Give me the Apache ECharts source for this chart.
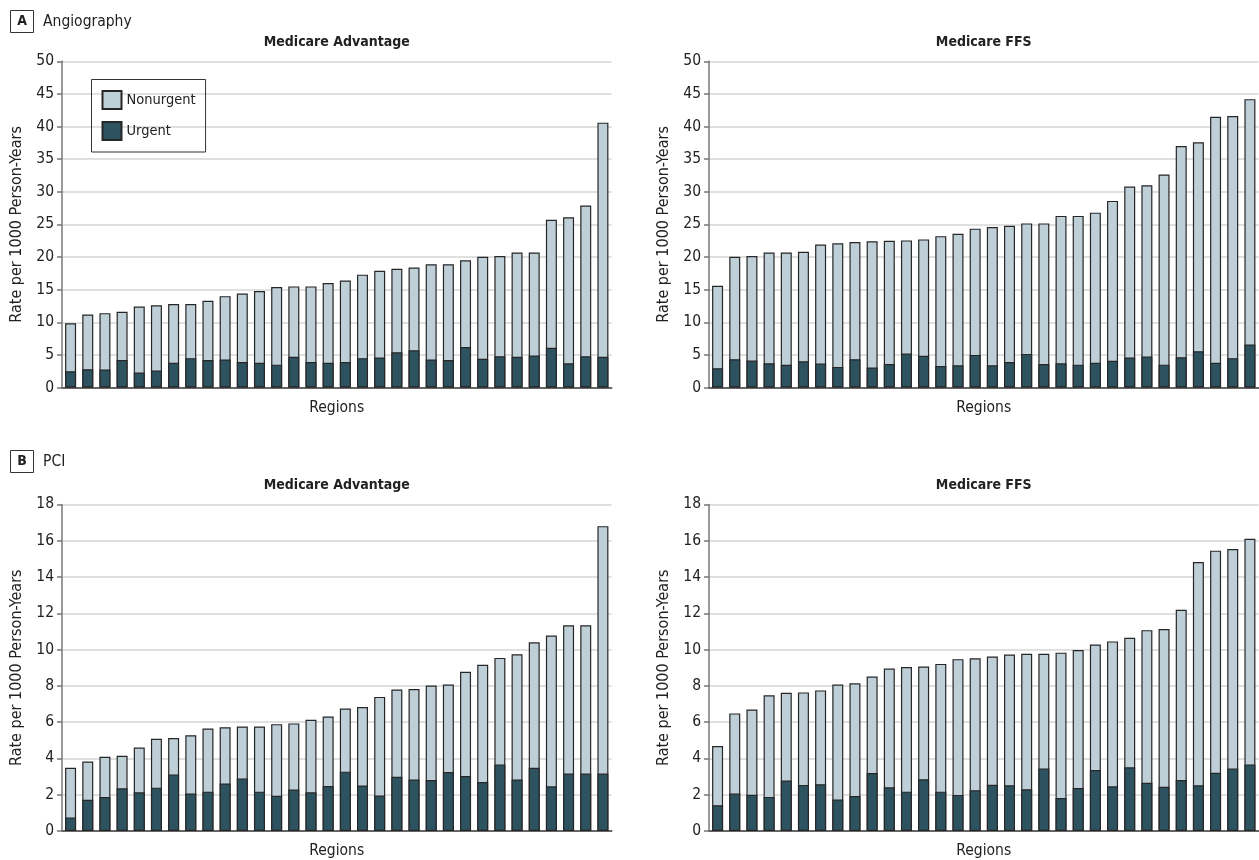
<!DOCTYPE html>
<html>
<head>
<meta charset="utf-8">
<script src="https://cdn.jsdelivr.net/npm/echarts@6/dist/echarts.min.js"></script>
<style>
html,body{margin:0;padding:0;background:#fff;}
#chart{width:1259px;height:860px;}
</style>
</head>
<body>
<div id="chart"></div>
<script>
var regions = ['R1','R2','R3','R4','R5','R6','R7','R8','R9','R10','R11','R12','R13','R14','R15','R16',
  'R17','R18','R19','R20','R21','R22','R23','R24','R25','R26','R27','R28','R29','R30','R31','R32'];

var angioTicks = [0,5,10,15,20,25,30,35,40,45,50];
var pciTicks = [0,2,4,6,8,10,12,14,16,18];

// total rate (nonurgent + urgent) and urgent rate per 1000 person-years
var angioMATotal  = [9.85,11.2,11.4,11.6,12.4,12.6,12.8,12.8,13.3,14.0,14.4,14.8,15.4,15.5,15.5,16.0,16.4,17.3,17.9,18.2,18.4,18.9,18.9,19.5,20.05,20.15,20.7,20.7,25.7,26.1,27.9,40.6];
var angioMAUrgent = [2.5,2.8,2.75,4.2,2.3,2.6,3.8,4.5,4.2,4.3,3.9,3.8,3.5,4.7,3.9,3.8,3.9,4.5,4.6,5.4,5.7,4.3,4.2,6.2,4.4,4.8,4.7,4.9,6.1,3.7,4.8,4.7];

var angioFFSTotal  = [15.6,20.05,20.15,20.7,20.7,20.8,21.9,22.1,22.3,22.4,22.5,22.55,22.7,23.2,23.55,24.35,24.6,24.8,25.15,25.15,26.3,26.3,26.8,28.6,30.8,31.0,32.65,37.0,37.6,41.5,41.6,44.2];
var angioFFSUrgent = [2.96,4.34,4.13,3.72,3.47,4.03,3.67,3.16,4.34,3.06,3.6,5.2,4.85,3.3,3.4,5.0,3.4,3.9,5.15,3.6,3.7,3.5,3.8,4.1,4.6,4.75,3.5,4.64,5.56,3.8,4.5,6.6];

var pciMATotal  = [3.49,3.83,4.09,4.15,4.6,5.08,5.12,5.28,5.65,5.72,5.76,5.76,5.89,5.93,6.13,6.31,6.75,6.83,7.39,7.8,7.83,8.02,8.07,8.77,9.16,9.54,9.74,10.4,10.77,11.34,11.34,16.8];
var pciMAUrgent = [0.75,1.72,1.87,2.35,2.13,2.39,3.12,2.07,2.17,2.62,2.9,2.17,1.94,2.29,2.13,2.48,3.27,2.51,1.96,2.99,2.84,2.81,3.25,3.03,2.7,3.67,2.84,3.49,2.46,3.17,3.17,3.17];

var pciFFSTotal  = [4.68,6.48,6.7,7.48,7.62,7.64,7.75,8.07,8.14,8.51,8.95,9.04,9.06,9.21,9.47,9.52,9.62,9.73,9.77,9.77,9.83,9.97,10.28,10.45,10.65,11.07,11.13,12.19,14.82,15.45,15.54,16.1];
var pciFFSUrgent = [1.42,2.06,2.0,1.88,2.78,2.54,2.58,1.73,1.93,3.2,2.41,2.17,2.85,2.17,1.99,2.25,2.55,2.52,2.3,3.45,1.82,2.37,3.36,2.46,3.51,2.66,2.44,2.81,2.52,3.21,3.45,3.67];

var panelTitles = ['Medicare Advantage','Medicare FFS','Medicare Advantage','Medicare FFS'];
var sectionLetters = ['A','B'];
var sectionNames = ['Angiography','PCI'];

var FONT = '"Liberation Sans Narrow","DejaVu Sans Condensed","Roboto Condensed",sans-serif';
var LIGHT = '#bfcfd8', DARK = '#2e5360', EDGE = '#262626';

var grids = [
  {left:62, top:61.3, width:549.5, height:326.2},
  {left:709, top:61.3, width:549.5, height:326.2},
  {left:62, top:504.4, width:549.5, height:326.6},
  {left:709, top:504.4, width:549.5, height:326.6}
];
var totals = [angioMATotal, angioFFSTotal, pciMATotal, pciFFSTotal];
var urgents = [angioMAUrgent, angioFFSUrgent, pciMAUrgent, pciFFSUrgent];

var xAxes = [], yAxes = [], series = [], graphics = [];
grids.forEach(function(g, i){
  var isA = i < 2;
  var ticks = isA ? angioTicks : pciTicks;
  xAxes.push({
    type:'category', gridIndex:i, data:regions,
    name:'Regions', nameLocation:'middle', nameGap:12,
    nameTextStyle:{fontFamily:FONT, fontSize:15.5, color:'#222'},
    axisLine:{show:true, lineStyle:{color:'#666', width:2}},
    axisTick:{show:false}, axisLabel:{show:false}, splitLine:{show:false}
  });
  yAxes.push({
    type:'value', gridIndex:i, min:ticks[0], max:ticks[ticks.length-1], interval:ticks[1]-ticks[0],
    name:'Rate per 1000 Person-Years', nameLocation:'middle', nameGap:37,
    nameTextStyle:{fontFamily:FONT, fontSize:16, color:'#222'},
    axisLine:{show:true, lineStyle:{color:'#777', width:1.5}},
    axisTick:{show:true, length:5, lineStyle:{color:'#777', width:1.5}},
    axisLabel:{fontFamily:FONT, fontSize:15.5, color:'#222', margin:8},
    splitLine:{show:true, lineStyle:{color:'#e0e0e0', width:2}}
  });
  series.push({
    name:'Nonurgent', type:'bar', xAxisIndex:i, yAxisIndex:i, data:totals[i],
    barWidth:11, barGap:'-100%',
    itemStyle:{color:LIGHT, borderColor:EDGE, borderWidth:1.2}
  });
  series.push({
    name:'Urgent', type:'bar', xAxisIndex:i, yAxisIndex:i, data:urgents[i],
    barWidth:11, barGap:'-100%',
    itemStyle:{color:DARK, borderColor:EDGE, borderWidth:1.2}
  });
  graphics.push({
    type:'text', x:g.left + g.width/2, y:g.top - 18.6,
    style:{text:panelTitles[i], font:'bold 14px ' + FONT, fill:'#222', align:'center', verticalAlign:'middle'}
  });
});

[ {y:10, k:0}, {y:450, k:1} ].forEach(function(s){
  graphics.push({
    type:'rect', shape:{x:10.5, y:s.y + 0.5, width:23, height:22},
    style:{fill:'#fff', stroke:'#333', lineWidth:1}
  });
  graphics.push({
    type:'text', x:22, y:s.y + 11.5,
    style:{text:sectionLetters[s.k], font:'bold 14px ' + FONT, fill:'#222', align:'center', verticalAlign:'middle'}
  });
  graphics.push({
    type:'text', x:43, y:s.y + 11.5,
    style:{text:sectionNames[s.k], font:'15.5px ' + FONT, fill:'#222', align:'left', verticalAlign:'middle'}
  });
});

var chart = echarts.init(document.getElementById('chart'), null, {renderer:'canvas'});
chart.setOption({
  animation:false,
  backgroundColor:'#fff',
  grid:grids,
  xAxis:xAxes,
  yAxis:yAxes,
  series:series,
  legend:{
    data:['Nonurgent','Urgent'], orient:'vertical', left:91.5, top:79.5,
    icon:'rect', itemWidth:19, itemHeight:18, itemGap:11,
    padding:[10.5,10,11,10], borderColor:'#333', borderWidth:1,
    textStyle:{fontFamily:FONT, fontSize:14.5, color:'#222'},
    selectedMode:false
  },
  graphic:graphics
});
</script>
</body>
</html>
